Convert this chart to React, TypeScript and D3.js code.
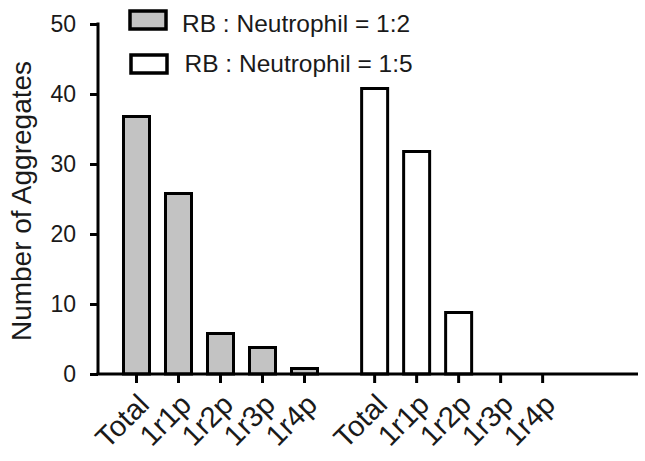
import { useEffect, useRef } from 'react';
import * as d3 from 'd3';

const CATEGORIES = ['Total', '1r1p', '1r2p', '1r3p', '1r4p'];
const SERIES_LABELS = ['RB : Neutrophil = 1:2', 'RB : Neutrophil = 1:5'];
const SERIES_FILLS = ['#c3c3c3', '#ffffff'];
const VALUES_1_2 = [37, 26, 6, 4, 1];
const VALUES_1_5 = [41, 32, 9, 0, 0];
const Y_TICKS = [0, 10, 20, 30, 40, 50];

const W = 645, H = 461;
const FONT = 'Liberation Sans, Arial, sans-serif';
const INK = '#1a1a1a';

export default function App() {
  const svgRef = useRef<SVGSVGElement | null>(null);

  useEffect(() => {
    const svg = d3.select(svgRef.current);
    svg.selectAll('*').remove();

    const series = [VALUES_1_2, VALUES_1_5];
    const GAP = 0.67; // extra space between groups, in slots
    const slot = (gi: number, i: number) => gi * (CATEGORIES.length + GAP) + i;

    const x = d3.scaleLinear().domain([0, 1]).range([136.5, 178.5]);
    const y = d3.scaleLinear().domain([0, 50]).range([374, 24]);
    const barW = 29;
    const x0 = 98, x1 = 638;

    const g = svg.append('g');

    // bars
    series.forEach((vals, gi) => {
      g.selectAll(null)
        .data(vals)
        .enter().append('rect')
        .attr('x', (_, i) => x(slot(gi, i)) - barW / 2 + 1.5)
        .attr('width', barW - 3)
        .attr('y', d => y(d) + 1.5)
        .attr('height', d => Math.max(0, y(0) - y(d) - 1.5))
        .attr('fill', SERIES_FILLS[gi])
        .attr('stroke', d => (d > 0 ? '#000' : 'none'))
        .attr('stroke-width', 3);
    });

    // y axis
    const ya = g.append('g').attr('transform', `translate(${x0},0)`)
      .call(d3.axisLeft(y).tickValues(Y_TICKS).tickSize(8).tickPadding(14));
    ya.select('.domain').attr('stroke-width', 3).attr('d', `M0,${y(0)}V${y(50) - 1.5}`);
    ya.selectAll('line').attr('stroke-width', 3);
    ya.selectAll('text').style('font-size', '23px').style('font-family', FONT).attr('fill', INK);

    // x axis
    const xa = g.append('g').attr('transform', `translate(0,${y(0)})`);
    xa.append('line').attr('x1', x0 - 1.5).attr('x2', x1).attr('y1', 0).attr('y2', 0)
      .attr('stroke', '#000').attr('stroke-width', 3);
    series.forEach((vals, gi) => {
      const tk = xa.selectAll(null).data(CATEGORIES).enter().append('g')
        .attr('transform', (_, i) => `translate(${x(slot(gi, i))},0)`);
      tk.append('line').attr('y1', 0).attr('y2', 9).attr('stroke', '#000').attr('stroke-width', 3);
      tk.append('text')
        .attr('transform', 'translate(0,18) rotate(-45)')
        .attr('text-anchor', 'end')
        .attr('dy', '0.7em')
        .style('font-size', '29px').style('font-family', FONT).attr('fill', INK)
        .text(d => d);
    });

    // y label
    svg.append('text')
      .attr('transform', `translate(31,${201}) rotate(-90)`)
      .attr('text-anchor', 'middle')
      .style('font-size', '28px').style('font-family', FONT).attr('fill', INK)
      .text('Number of Aggregates');

    // legend
    const lg = svg.append('g');
    SERIES_LABELS.forEach((lab, i) => {
      const by = 20 + i * 44;
      lg.append('rect').attr('x', 130 + i * 1).attr('y', by - 9).attr('width', 36).attr('height', 18)
        .attr('fill', SERIES_FILLS[i]).attr('stroke', '#000').attr('stroke-width', 3.5);
      lg.append('text').attr('x', 182 + i * 2.5).attr('y', 32 + i * 40)
        .style('font-size', '24.5px').style('font-family', FONT).attr('fill', INK)
        .text(lab);
    });
  }, []);

  return (
    <div style={{ position: 'absolute', left: 0, top: 0, background: '#fff' }}>
      <svg ref={svgRef} width={W} height={H} style={{ display: 'block' }} />
    </div>
  );
}
